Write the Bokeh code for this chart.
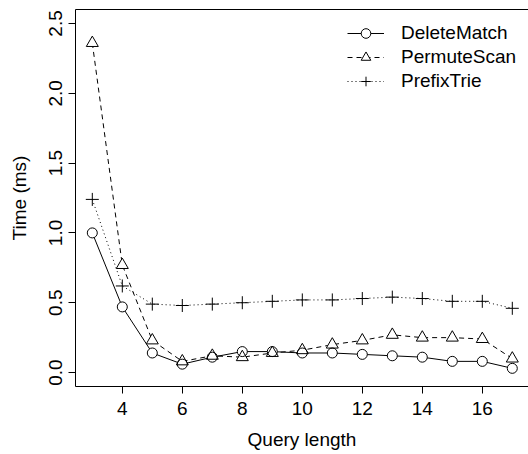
from bokeh.plotting import figure
from bokeh.models import Range1d, FixedTicker, PrintfTickFormatter, Legend, LegendItem, LinearAxis
from bokeh.embed import file_html
from bokeh.resources import INLINE

# ---- data ----
query_length = [3, 4, 5, 6, 7, 8, 9, 10, 11, 12, 13, 14, 15, 16, 17]
delete_match = [1.00, 0.47, 0.14, 0.06, 0.11, 0.15, 0.15, 0.14, 0.14, 0.13, 0.12, 0.11, 0.08, 0.08, 0.03]
permute_scan = [2.36, 0.77, 0.23, 0.08, 0.12, 0.11, 0.14, 0.16, 0.20, 0.23, 0.27, 0.25, 0.25, 0.24, 0.10]
prefix_trie = [1.24, 0.62, 0.49, 0.48, 0.49, 0.50, 0.51, 0.52, 0.52, 0.53, 0.54, 0.53, 0.51, 0.51, 0.46]
series_names = ["DeleteMatch", "PermuteScan", "PrefixTrie"]
x_ticks = [4, 6, 8, 10, 12, 14, 16]
y_ticks = [0.0, 0.5, 1.0, 1.5, 2.0, 2.5]

FONT = "Liberation Sans"
FS = "19px"
FW = 453

p = figure(
    frame_width=FW, frame_height=377,
    min_border_left=75, min_border_right=0, min_border_top=9, min_border_bottom=68,
    x_range=Range1d(2.44, 2.44 + FW / 30.0), y_range=Range1d(-0.1, 2.6),
    output_backend="svg", toolbar_location=None,
    background_fill_color="white", border_fill_color="white",
)
p.xgrid.visible = False
p.ygrid.visible = False
p.outline_line_color = None

top_axis = LinearAxis(ticker=FixedTicker(ticks=[]), major_label_text_font_size="0px",
                      major_tick_out=0, major_tick_in=0, minor_tick_line_color=None,
                      axis_line_color="black", major_label_standoff=0)
p.add_layout(top_axis, "above")

bottom = p.below[0]
left = p.left[0]

for ax in (bottom, left):
    ax.axis_line_color = "black"
    ax.major_tick_in = 0
    ax.major_tick_out = 7
    ax.major_tick_line_color = "black"
    ax.minor_tick_line_color = None
    ax.major_label_text_font = FONT
    ax.major_label_text_font_size = FS
    ax.major_label_text_color = "black"
    ax.axis_label_text_font = FONT
    ax.axis_label_text_font_size = FS
    ax.axis_label_text_font_style = "normal"
    ax.axis_label_text_color = "black"

bottom.ticker = FixedTicker(ticks=x_ticks)
left.ticker = FixedTicker(ticks=y_ticks)
left.formatter = PrintfTickFormatter(format="%.1f")
left.major_label_orientation = "vertical"
bottom.axis_label = "Query length"
left.axis_label = "Time (ms)"
bottom.major_label_standoff = 8
bottom.axis_label_standoff = 11
left.major_label_standoff = 6
left.axis_label_standoff = 17

specs = [
    (delete_match, "solid", "circle", 10),
    (permute_scan, "5 4", "triangle", 12),
    (prefix_trie, "1 3", "cross", 13),
]

lines = []
for vals, dash, mk, sz in specs:
    lines.append(p.line(query_length, vals, line_color="black", line_width=1, line_dash=dash))
fills = []
for vals, dash, mk, sz in specs:
    fills.append(p.scatter(query_length, vals, marker=mk, size=sz, fill_color="white", line_color=None))
outlines = []
for vals, dash, mk, sz in specs:
    outlines.append(p.scatter(query_length, vals, marker=mk, size=sz, fill_color=None,
                              line_color="black", line_width=1))

items = [LegendItem(label=name, renderers=[lines[i], fills[i], outlines[i]])
         for i, name in enumerate(series_names)]
legend = Legend(
    items=items, location=(272, 293),
    glyph_width=37, glyph_height=24, label_height=24, spacing=0, padding=0, margin=0,
    label_standoff=17, border_line_color=None, background_fill_alpha=0,
    label_text_font=FONT, label_text_font_size=FS, label_text_color="black",
)
p.add_layout(legend)

open("out.html", "w").write(file_html(p, INLINE))
